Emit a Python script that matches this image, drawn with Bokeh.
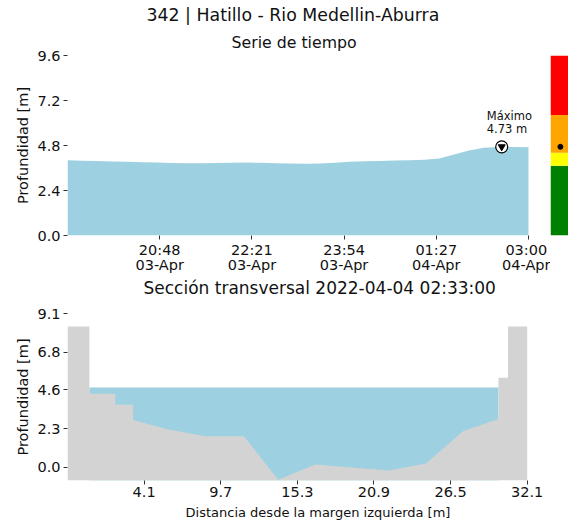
import pandas as pd
from bokeh.plotting import figure
from bokeh.layouts import column, row
from bokeh.models import (Range1d, FixedTicker, NumeralTickFormatter,
                          DatetimeTickFormatter, Label, Title)
from bokeh.embed import file_html
from bokeh.resources import INLINE

FONT = "DejaVu Sans"
BLUE = "#9dd0e0"
GRAY = "#d3d3d3"

# ---------------- data ----------------
station_title = "342 | Hatillo - Rio Medellin-Aburra"
series_title = "Serie de tiempo"

times = [
    "2022-04-03 19:15", "2022-04-03 19:30", "2022-04-03 19:45", "2022-04-03 20:00",
    "2022-04-03 20:15", "2022-04-03 20:30", "2022-04-03 20:45", "2022-04-03 21:00",
    "2022-04-03 21:15", "2022-04-03 21:30", "2022-04-03 21:45", "2022-04-03 22:00",
    "2022-04-03 22:15", "2022-04-03 22:30", "2022-04-03 22:45", "2022-04-03 23:00",
    "2022-04-03 23:15", "2022-04-03 23:30", "2022-04-03 23:45", "2022-04-04 00:00",
    "2022-04-04 00:15", "2022-04-04 00:30", "2022-04-04 00:45", "2022-04-04 01:00",
    "2022-04-04 01:15", "2022-04-04 01:30", "2022-04-04 01:45", "2022-04-04 02:00",
    "2022-04-04 02:15", "2022-04-04 02:30", "2022-04-04 02:33", "2022-04-04 02:45",
    "2022-04-04 03:00",
]
depth = [
    4.01, 3.99, 3.97, 3.95, 3.93, 3.91, 3.89, 3.87,
    3.86, 3.86, 3.87, 3.88, 3.89, 3.88, 3.86, 3.84,
    3.83, 3.84, 3.88, 3.93, 3.96, 3.98, 4.00, 4.02,
    4.04, 4.11, 4.32, 4.54, 4.68, 4.72, 4.73, 4.72,
    4.71,
]

time_ticks = ["2022-04-03 20:48", "2022-04-03 22:21", "2022-04-03 23:54",
              "2022-04-04 01:27", "2022-04-04 03:00"]
depth_ticks = [0.0, 2.4, 4.8, 7.2, 9.6]

alert_levels = [0.0, 3.72, 4.42, 6.43, 9.6]
alert_colors = ["#008000", "#ffff00", "#ffa500", "#ff0000"]

section_title = "Sección transversal 2022-04-04 02:33:00"
section_x = [-1.5, 0.1, 0.1, 2.0, 2.0, 3.3, 3.3, 5.8, 8.6, 11.4, 13.9, 16.6,
             22.0, 24.7, 27.4, 30.0, 30.0, 30.7, 30.7, 32.1]
section_y = [8.33, 8.33, 4.35, 4.35, 3.7, 3.7, 2.8, 2.26, 1.85, 1.85, -0.72, 0.18,
             -0.18, 0.24, 2.14, 2.86, 5.3, 5.3, 8.33, 8.33]
water_level = 4.73
section_xticks = [4.1, 9.7, 15.3, 20.9, 26.5, 32.1]
section_yticks = [0.0, 2.3, 4.6, 6.8, 9.1]


def style(p, tick_size="14.5px"):
    p.outline_line_color = None
    p.grid.visible = False
    p.background_fill_color = "white"
    p.border_fill_color = "white"
    for ax in p.axis:
        ax.axis_line_color = None
        ax.major_tick_out = 4
        ax.major_tick_in = 0
        ax.major_tick_line_color = "#333333"
        ax.minor_tick_line_color = None
        ax.major_label_text_font = FONT
        ax.major_label_text_font_size = tick_size
        ax.major_label_text_color = "#111111"
        ax.axis_label_text_font = FONT
        ax.axis_label_text_font_style = "normal"
        ax.axis_label_text_color = "#111111"


def title(text, size, standoff, offset):
    return Title(text=text, align="left", text_font=FONT, text_font_size=size,
                 text_font_style="normal", text_color="#111111",
                 standoff=standoff, offset=offset)


# ---------------- time series ----------------
t = pd.to_datetime(times)
t_ms = [ts.value / 1e6 for ts in t]
tick_ms = [pd.Timestamp(s).value / 1e6 for s in time_ticks]
step_ms = (tick_ms[1] - tick_ms[0]) / 92.0  # ms per pixel
x_end = t_ms[-1] + 8 * step_ms  # a little room for the "Máximo" note

top = figure(width=550, height=298, x_axis_type="datetime",
             x_range=Range1d(t_ms[0], x_end), y_range=Range1d(depth_ticks[0], depth_ticks[-1]),
             output_backend="svg", toolbar_location=None,
             min_border_left=67, min_border_right=14, min_border_top=55, min_border_bottom=62)
style(top)
top.varea(x=t_ms, y1=0, y2=depth, fill_color=BLUE)

imax = max(range(len(depth)), key=lambda i: depth[i])
top.scatter(x=[t_ms[imax]], y=[depth[imax]], marker="circle", size=12,
            fill_color="white", line_color="black", line_width=1.2)
top.scatter(x=[t_ms[imax]], y=[depth[imax]], marker="inverted_triangle", size=7,
            fill_color="black", line_color="black")
top.add_layout(Label(x=t_ms[imax], y=depth[imax], text=f"Máximo\n{depth[imax]:.2f} m",
                     x_offset=-15, y_offset=11, text_align="left", text_baseline="bottom",
                     text_font=FONT, text_font_size="11.5px", text_color="#111111",
                     text_line_height=0.9))

top.xaxis.ticker = FixedTicker(ticks=tick_ms)
fmt = "%H:%M\n%d-%b"
top.xaxis.formatter = DatetimeTickFormatter(minutes=fmt, hourmin=fmt, hours=fmt, days=fmt,
                                            minsec=fmt, seconds=fmt)
top.xaxis.major_label_standoff = 2
top.xaxis.major_label_text_line_height = 0.95
top.yaxis.ticker = FixedTicker(ticks=depth_ticks)
top.yaxis.formatter = NumeralTickFormatter(format="0.0")
top.yaxis.major_label_standoff = 3
top.yaxis.axis_label = "Profundidad [m]"
top.yaxis.axis_label_text_font_size = "14.5px"
top.yaxis.axis_label_standoff = 3

top.add_layout(title(series_title, "15.75px", 8, 164), "above")
top.add_layout(title(station_title, "17.35px", 4, 79), "above")
top.add_layout(title(section_title, "17px", 0, 76), "below")

# ---------------- alert bar ----------------
bar = figure(width=18, height=298, x_range=Range1d(0, 1),
             y_range=Range1d(alert_levels[0], alert_levels[-1]),
             output_backend="svg", toolbar_location=None,
             x_axis_location=None, y_axis_location=None,
             min_border_left=0, min_border_right=0, min_border_top=54, min_border_bottom=63)
bar.outline_line_color = None
bar.grid.visible = False
bar.quad(left=0, right=1, bottom=alert_levels[:-1], top=alert_levels[1:],
         fill_color=alert_colors, line_color=None)
bar.scatter(x=[0.55], y=[depth[imax]], size=5, color="black")

# ---------------- cross section ----------------
ymin = min(section_y) - 0.05
bot = figure(width=568, height=227,
             x_range=Range1d(section_x[0], 35.12), y_range=Range1d(ymin, section_yticks[-1]),
             output_backend="svg", toolbar_location=None,
             min_border_left=67, min_border_right=0, min_border_top=15, min_border_bottom=45)
style(bot)
bot.quad(left=section_x[1], right=section_x[-5], bottom=ymin, top=water_level,
         fill_color=BLUE, line_color=None)
bot.patch(x=section_x + [section_x[-1], section_x[0]],
          y=section_y + [ymin, ymin], fill_color=GRAY, line_color=None)
bot.xaxis.ticker = FixedTicker(ticks=section_xticks)
bot.xaxis.formatter = NumeralTickFormatter(format="0.0")
bot.xaxis.major_label_standoff = 2
bot.xaxis.axis_label = "Distancia desde la margen izquierda [m]"
bot.xaxis.axis_label_text_font_size = "13px"
bot.xaxis.axis_label_standoff = 5
bot.yaxis.ticker = FixedTicker(ticks=section_yticks)
bot.yaxis.formatter = NumeralTickFormatter(format="0.0")
bot.yaxis.major_label_standoff = 3
bot.yaxis.axis_label = "Profundidad [m]"
bot.yaxis.axis_label_text_font_size = "14.5px"
bot.yaxis.axis_label_standoff = 3

layout = column(row(top, bar), bot)
open("out.html", "w").write(file_html(layout, INLINE))
